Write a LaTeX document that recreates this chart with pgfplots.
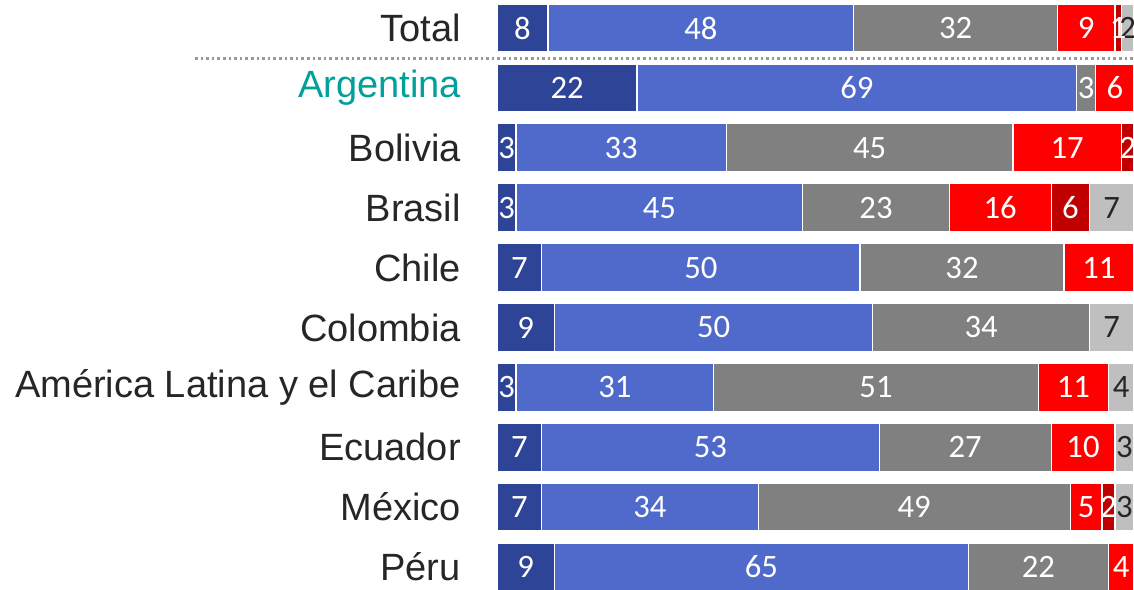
\documentclass[border=0pt]{standalone}
\usepackage{pgfplots}
\pgfplotsset{compat=1.18}
\usepackage{fontspec}
\setmainfont{Liberation Sans}
\newfontfamily\numfont{Carlito}

\definecolor{cDark}{RGB}{46,68,151}
\definecolor{cBlue}{RGB}{79,106,202}
\definecolor{cGray}{RGB}{128,128,128}
\definecolor{cRed}{RGB}{255,0,0}
\definecolor{cDRed}{RGB}{192,0,0}
\definecolor{cLGray}{RGB}{191,191,191}
\definecolor{cTeal}{RGB}{0,160,155}
\definecolor{cText}{RGB}{38,38,38}

\begin{document}
\begin{tikzpicture}
\begin{axis}[
    name=ax,
    xbar stacked,
    bar width=36pt,
    width=477.75pt, height=441.75pt,
    scale only axis,
    xmin=0, xmax=100,
    ymin=-0.367, ymax=9.467,
    axis line style={draw=none},
    xtick=\empty,
    ytick={0,...,9},
    yticklabels={P\'eru, M\'exico, Ecuador, Am\'erica Latina y el Caribe, Colombia, Chile, Brasil, Bolivia, \textcolor{cTeal}{Argentina}, Total},
    yticklabel style={font=\fontsize{28.5}{32}\selectfont, text=cText, anchor=east, inner sep=0pt, xshift=-27pt},
    major tick length=0pt,
    point meta=explicit symbolic,
    nodes near coords,
    every node near coord/.append style={font=\numfont\fontsize{24.5}{28}\selectfont, text=white},
    clip=false,
]
% dark blue
\addplot[fill=cDark, draw=white, line width=1pt] coordinates {
    (9,0)[9] (7,1)[7] (7,2)[7] (3,3)[3] (9,4)[9] (7,5)[7] (3,6)[3] (3,7)[3] (22,8)[22] (8,9)[8]
};
% blue
\addplot[fill=cBlue, draw=white, line width=1pt] coordinates {
    (65,0)[65] (34,1)[34] (53,2)[53] (31,3)[31] (50,4)[50] (50,5)[50] (45,6)[45] (33,7)[33] (69,8)[69] (48,9)[48]
};
% gray
\addplot[fill=cGray, draw=white, line width=1pt] coordinates {
    (22,0)[22] (49,1)[49] (27,2)[27] (51,3)[51] (34,4)[34] (32,5)[32] (23,6)[23] (45,7)[45] (3,8)[3] (32,9)[32]
};
% red
\addplot[fill=cRed, draw=white, line width=1pt] coordinates {
    (4,0)[4] (5,1)[5] (10,2)[10] (11,3)[11] (0,4)[] (11,5)[11] (16,6)[16] (17,7)[17] (6,8)[6] (9,9)[9]
};
% dark red
\addplot[fill=cDRed, draw=white, line width=1pt] coordinates {
    (0,0)[] (2,1)[2] (0,2)[] (0,3)[] (0,4)[] (0,5)[] (6,6)[6] (2,7)[2] (0,8)[] (1,9)[1]
};
% light gray
\addplot[fill=cLGray, draw=white, line width=1pt,
    every node near coord/.append style={text=cText}] coordinates {
    (0,0)[] (3,1)[3] (3,2)[3] (4,3)[4] (7,4)[7] (0,5)[] (7,6)[7] (0,7)[] (0,8)[] (2,9)[2]
};
\draw[cGray!80, line width=2pt, dash pattern=on 2pt off 2.2pt]
    ([xshift=-226.5pt]axis cs:0,8.49) -- (axis cs:100,8.49);
\coordinate (sw) at (rel axis cs:0,0);
\coordinate (ne) at (rel axis cs:1,1);
\end{axis}
\pgfresetboundingbox
\path[use as bounding box] ([xshift=-372.75pt]sw) rectangle (ne);
\end{tikzpicture}
\end{document}
